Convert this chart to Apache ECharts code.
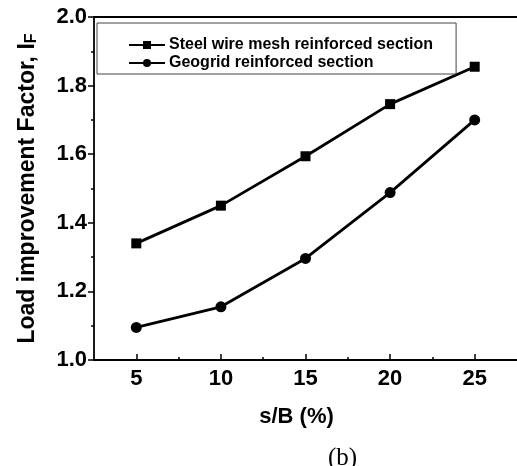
<!DOCTYPE html>
<html>
<head>
<meta charset="utf-8">
<script src="https://cdn.jsdelivr.net/npm/echarts@6/dist/echarts.min.js"></script>
<style>
  html, body { margin: 0; padding: 0; background: #fff; }
  #chart { width: 517px; height: 466px; }
</style>
</head>
<body>
<div id="chart"></div>
<script>
// s/B ratio (%) at which the load improvement factor was measured
const sbRatio = [5, 10, 15, 20, 25];
// Load improvement factor I_F for each reinforcement type
const steelMesh = [1.34, 1.45, 1.594, 1.746, 1.855];
const geogrid = [1.095, 1.155, 1.296, 1.488, 1.70];
const seriesNames = ['Steel wire mesh reinforced section', 'Geogrid reinforced section'];
const xMajorTicks = [5, 10, 15, 20, 25];
const xMinorTicks = [7.5, 12.5, 17.5, 22.5];

const font = 'Arial, "Liberation Sans", sans-serif';
const pairs = (ys) => sbRatio.map((x, i) => [x, ys[i]]);

const chart = echarts.init(document.getElementById('chart'), null, { renderer: 'canvas' });

chart.setOption({
  backgroundColor: '#fff',
  animation: false,
  textStyle: { fontFamily: font, color: '#000' },
  grid: { left: 94, top: 17, right: -5, bottom: 106, containLabel: false },
  legend: {
    left: 97,
    top: 23,
    orient: 'vertical',
    padding: [14, 23, 3, 31],
    itemGap: 2,
    itemWidth: 36,
    itemHeight: 10,
    borderColor: '#444',
    borderWidth: 1,
    borderRadius: 0,
    textStyle: { fontFamily: font, fontSize: 16, fontWeight: 'bold', color: '#000', padding: [0, 0, 0, -1] },
    data: seriesNames
  },
  xAxis: [
    {
      type: 'value',
      min: 2.5,
      max: 27.5,
      position: 'bottom',
      name: 's/B (%)',
      nameLocation: 'middle',
      nameGap: 46,
      nameTextStyle: { fontFamily: font, fontSize: 22, fontWeight: 'bold', color: '#000', padding: [0, 18, 0, 0] },
      axisLine: { show: true, onZero: false, lineStyle: { color: '#000', width: 1.8 } },
      axisTick: { show: true, inside: true, length: 6, customValues: xMajorTicks, lineStyle: { color: '#000', width: 1.5 } },
      axisLabel: { show: true, customValues: xMajorTicks, margin: 8, fontFamily: font, fontSize: 22, fontWeight: 'bold', color: '#000' },
      splitLine: { show: false }
    },
    {
      type: 'value',
      min: 2.5,
      max: 27.5,
      position: 'bottom',
      axisLine: { show: false, onZero: false },
      axisTick: { show: true, inside: true, length: 3, customValues: xMinorTicks, lineStyle: { color: '#000', width: 1.5 } },
      axisLabel: { show: false },
      splitLine: { show: false }
    },
    {
      type: 'value',
      min: 2.5,
      max: 27.5,
      position: 'top',
      axisLine: { show: true, onZero: false, lineStyle: { color: '#000', width: 1.8 } },
      axisTick: { show: false },
      axisLabel: { show: false },
      splitLine: { show: false }
    }
  ],
  yAxis: {
    type: 'value',
    min: 1.0,
    max: 2.0,
    interval: 0.2,
    name: 'Load improvement Factor, I{sub|F}',
    nameLocation: 'middle',
    nameRotate: 90,
    nameGap: 54,
    nameTextStyle: {
      fontFamily: font, fontSize: 23, fontWeight: 'bold', color: '#000',
      rich: { sub: { fontFamily: font, fontSize: 16, fontWeight: 'bold', color: '#000', verticalAlign: 'bottom', padding: [9, 0, 0, 0] } }
    },
    axisLine: { show: true, onZero: false, lineStyle: { color: '#000', width: 1.8 } },
    axisTick: { show: true, inside: false, length: 6, lineStyle: { color: '#000', width: 1.5 } },
    minorTick: { show: true, splitNumber: 2, length: 3, lineStyle: { color: '#000', width: 1.5 } },
    axisLabel: { margin: 7, fontFamily: font, fontSize: 22, fontWeight: 'bold', color: '#000', formatter: (v) => v.toFixed(1) },
    splitLine: { show: false }
  },
  graphic: [
    {
      type: 'text',
      left: 328,
      top: 446,
      style: { text: '(b)', font: '25px "Liberation Serif", "Times New Roman", serif', fill: '#000' }
    }
  ],
  series: [
    {
      name: seriesNames[0],
      type: 'line',
      xAxisIndex: 0,
      data: pairs(steelMesh),
      symbol: 'rect',
      symbolSize: 10,
      lineStyle: { color: '#000', width: 2.8 },
      itemStyle: { color: '#000' }
    },
    {
      name: seriesNames[1],
      type: 'line',
      xAxisIndex: 0,
      data: pairs(geogrid),
      symbol: 'circle',
      symbolSize: 11,
      lineStyle: { color: '#000', width: 2.8 },
      itemStyle: { color: '#000' }
    }
  ]
});
</script>
</body>
</html>
